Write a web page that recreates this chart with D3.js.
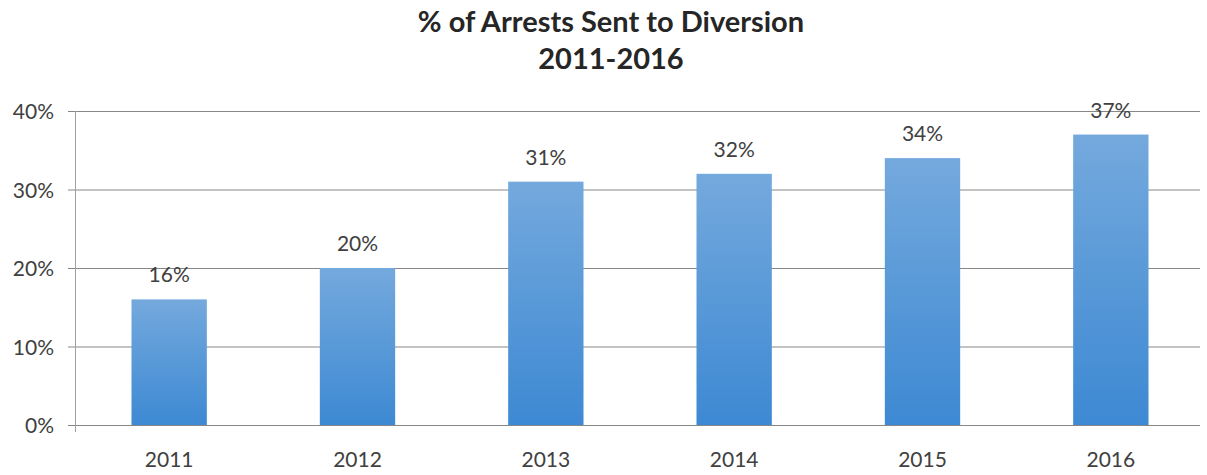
<!DOCTYPE html>
<html>
<head>
<meta charset="utf-8">
<script src="https://cdn.jsdelivr.net/npm/d3@7"></script>
<style>
  body { margin: 0; background: #fff; }
  #chart { width: 1207px; height: 475px; }
</style>
</head>
<body>
<div id="chart"></div>
<script>
const years = ["2011", "2012", "2013", "2014", "2015", "2016"];
const diversionPct = [16, 20, 31, 32, 34, 37];
const yTicks = [0, 10, 20, 30, 40];

const width = 1207;
const height = 475;
const margin = { top: 111, right: 2, bottom: 50, left: 75 };
const font = "Lato, 'Open Sans', sans-serif";

const svg = d3.select("#chart")
  .append("svg")
  .attr("width", width)
  .attr("height", height);

const defs = svg.append("defs");
const grad = defs.append("linearGradient")
  .attr("id", "barGrad")
  .attr("x1", 0).attr("y1", 0).attr("x2", 0).attr("y2", 1);
grad.append("stop").attr("offset", "0%").attr("stop-color", "#74a9dd");
grad.append("stop").attr("offset", "100%").attr("stop-color", "#3d89d3");

const x = d3.scaleBand()
  .domain(years)
  .range([margin.left, width - margin.right])
  .paddingInner(0.6)
  .paddingOuter(0.3);

const y = d3.scaleLinear()
  .domain([0, 40])
  .range([height - margin.bottom, margin.top]);

// gridlines
svg.append("g")
  .selectAll("line")
  .data(yTicks)
  .enter()
  .append("line")
  .attr("x1", margin.left - 7)
  .attr("x2", 1200)
  .attr("y1", (d) => y(d) + 0.5)
  .attr("y2", (d) => y(d) + 0.5)
  .attr("stroke", "#878787")
  .attr("stroke-width", 1);

// vertical axis line
svg.append("line")
  .attr("x1", margin.left + 0.5)
  .attr("x2", margin.left + 0.5)
  .attr("y1", y(40))
  .attr("y2", y(0) + 7)
  .attr("stroke", "#a0a0a0");

// y tick labels
svg.append("g")
  .selectAll("text")
  .data(yTicks)
  .enter()
  .append("text")
  .attr("x", 54)
  .attr("y", (d) => y(d) + 8)
  .attr("text-anchor", "end")
  .style("font-family", font)
  .style("font-size", "21px")
  .style("fill", "#404040")
  .text((d) => d + "%");

// bars
svg.append("g")
  .selectAll("rect")
  .data(diversionPct)
  .enter()
  .append("rect")
  .attr("x", (d, i) => x(years[i]))
  .attr("y", (d) => y(d))
  .attr("width", x.bandwidth())
  .attr("height", (d) => y(0) - y(d))
  .attr("fill", "url(#barGrad)");

// data labels
svg.append("g")
  .selectAll("text")
  .data(diversionPct)
  .enter()
  .append("text")
  .attr("x", (d, i) => x(years[i]) + x.bandwidth() / 2)
  .attr("y", (d) => y(d) - 17)
  .attr("text-anchor", "middle")
  .style("font-family", font)
  .style("font-size", "21px")
  .style("fill", "#404040")
  .text((d) => d + "%");

// x labels
svg.append("g")
  .selectAll("text")
  .data(years)
  .enter()
  .append("text")
  .attr("x", (d) => x(d) + x.bandwidth() / 2)
  .attr("y", 467)
  .attr("text-anchor", "middle")
  .style("font-family", font)
  .style("font-size", "21px")
  .style("fill", "#404040")
  .text((d) => d);

// title
const title = svg.append("text")
  .attr("text-anchor", "middle")
  .style("font-family", font)
  .style("font-size", "29px")
  .style("font-weight", 700)
  .style("fill", "#262626");
title.append("tspan").attr("x", 611).attr("y", 32).text("% of Arrests Sent to Diversion");
title.append("tspan").attr("x", 611).attr("y", 69).text("2011-2016");
</script>
</body>
</html>
